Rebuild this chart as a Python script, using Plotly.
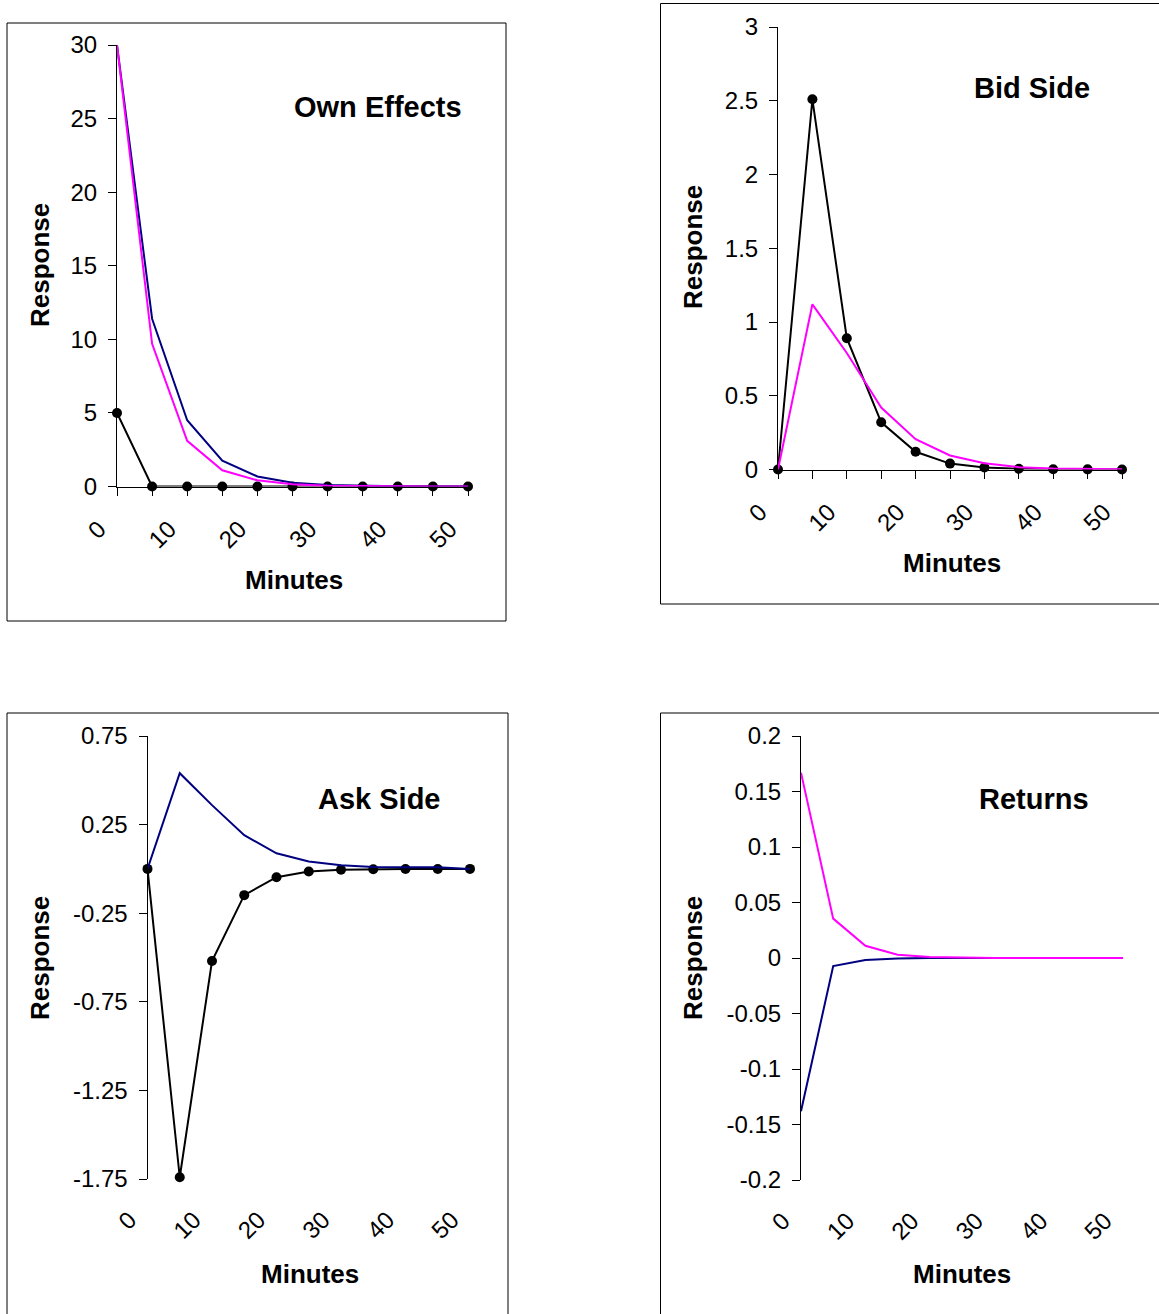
import plotly.graph_objects as go

# ---------------- data ----------------
MINUTES = [0, 5, 10, 15, 20, 25, 30, 35, 40, 45, 50]
X_LABELS = ["0", "10", "20", "30", "40", "50"]

own_black = [5, 0, 0, 0, 0, 0, 0, 0, 0, 0, 0]
own_navy = [30, 11.4, 4.5, 1.75, 0.68, 0.26, 0.10, 0.04, 0.015, 0.006, 0.002]
own_magenta = [30, 9.7, 3.1, 1.1, 0.42, 0.15, 0.05, 0.02, 0.007, 0.003, 0.001]

bid_black = [0, 2.51, 0.89, 0.32, 0.12, 0.04, 0.014, 0.005, 0.002, 0.001, 0]
bid_magenta = [0, 1.12, 0.79, 0.42, 0.205, 0.095, 0.042, 0.016, 0.006, 0.002, 0.001]

ask_black = [0, -1.74, -0.52, -0.148, -0.047, -0.015, -0.005, -0.002, -0.001, -0.001, 0]
ask_navy = [0, 0.54, 0.36, 0.19, 0.088, 0.042, 0.02, 0.011, 0.01, 0.01, 0.0]

ret_magenta = [0.167, 0.0355, 0.011, 0.003, 0.001, 0.0003, 0, 0, 0, 0, 0]
ret_navy = [-0.138, -0.0072, -0.0018, -0.0005, -0.0001, 0, 0, 0, 0, 0, 0]

OWN_YTICKS = [0, 5, 10, 15, 20, 25, 30]
OWN_YTEXT = ["0", "5", "10", "15", "20", "25", "30"]
BID_YTICKS = [0, 0.5, 1, 1.5, 2, 2.5, 3]
BID_YTEXT = ["0", "0.5", "1", "1.5", "2", "2.5", "3"]
ASK_YTICKS = [0.75, 0.25, -0.25, -0.75, -1.25, -1.75]
ASK_YTEXT = ["0.75", "0.25", "-0.25", "-0.75", "-1.25", "-1.75"]
RET_YTICKS = [0.2, 0.15, 0.1, 0.05, 0, -0.05, -0.1, -0.15, -0.2]
RET_YTEXT = ["0.2", "0.15", "0.1", "0.05", "0", "-0.05", "-0.1", "-0.15", "-0.2"]

TITLES = ["Own Effects", "Bid Side", "Ask Side", "Returns"]

# ---------------- style ----------------
W, H = 1159, 1314
FONT = "Arial, Liberation Sans, sans-serif"
BLACK = "#000000"
NAVY = "#000080"
MAGENTA = "#FF00FF"
TICK_FONT = dict(family=FONT, size=24, color=BLACK)


def px_x(x):
    return x / W


def px_y(y):
    return 1 - y / H


# panel geometry (pixels)
panels = {
    "own": dict(x=(117, 468), y=(486.5, 45), rng=(0, 30)),
    "bid": dict(x=(778, 1122), y=(469.5, 27), rng=(0, 3)),
    "ask": dict(x=(147.5, 470), y=(1179, 736), rng=(-1.75, 0.75)),
    "ret": dict(x=(801, 1123), y=(1180, 736), rng=(-0.2, 0.2)),
}

fig = go.Figure()


def line_trace(y, color, xa, ya, markers=False):
    return go.Scatter(
        x=MINUTES, y=y, xaxis=xa, yaxis=ya,
        mode="lines+markers" if markers else "lines",
        line=dict(color=color, width=2),
        marker=dict(color=BLACK, size=10) if markers else None,
        cliponaxis=False, showlegend=False, hoverinfo="skip",
    )


fig.add_trace(line_trace(own_black, BLACK, "x", "y", True))
fig.add_trace(line_trace(own_navy, NAVY, "x", "y"))
fig.add_trace(line_trace(own_magenta, MAGENTA, "x", "y"))

fig.add_trace(line_trace(bid_black, BLACK, "x2", "y2", True))
fig.add_trace(line_trace(bid_magenta, MAGENTA, "x2", "y2"))

fig.add_trace(line_trace(ask_black, BLACK, "x3", "y3", True))
fig.add_trace(line_trace(ask_navy, NAVY, "x3", "y3"))

fig.add_trace(line_trace(ret_navy, NAVY, "x4", "y4"))
fig.add_trace(line_trace(ret_magenta, MAGENTA, "x4", "y4"))

XR = [MINUTES[0], MINUTES[-1]]
x_ticktext = [str(m) if str(m) in X_LABELS else "" for m in MINUTES]

layout = dict(
    template="none",
    width=W, height=H, margin=dict(l=0, r=0, t=0, b=0, autoexpand=False),
    paper_bgcolor="white", plot_bgcolor="white",
    font=dict(family=FONT, color=BLACK),
    showlegend=False,
)


def xaxis_labels(dom, anchor, with_line, standoff):
    d = dict(
        domain=dom, anchor=anchor, range=XR, showgrid=False, zeroline=False,
        automargin=False,
        tickmode="array", tickvals=MINUTES, ticktext=x_ticktext,
        tickangle=-45, tickfont=TICK_FONT,
        ticklabelshift=-18, ticklabelstandoff=standoff,
        fixedrange=True,
    )
    if with_line:
        d.update(showline=True, linecolor=BLACK, linewidth=1,
                 ticks="outside", ticklen=8, tickcolor=BLACK, tickwidth=1)
    else:
        d.update(showline=False, ticks="")
    return d


def yaxis(dom, anchor, rng, tv, tt):
    return dict(
        domain=dom, anchor=anchor, range=list(rng), showgrid=False,
        zeroline=False, showline=True, linecolor=BLACK, linewidth=1,
        automargin=False,
        ticks="outside", ticklen=8, tickcolor=BLACK, tickwidth=1,
        tickmode="array", tickvals=tv, ticktext=tt, tickfont=TICK_FONT,
        ticklabelstandoff=6,
        fixedrange=True,
    )


def dom_x(p):
    return [px_x(p["x"][0]), px_x(p["x"][1])]


def dom_y(p):
    return [px_y(p["y"][0]), px_y(p["y"][1])]


P = panels
layout["xaxis"] = xaxis_labels(dom_x(P["own"]), "y", True, 10)
layout["yaxis"] = yaxis(dom_y(P["own"]), "x", P["own"]["rng"], OWN_YTICKS, OWN_YTEXT)
layout["xaxis2"] = xaxis_labels(dom_x(P["bid"]), "y2", True, 10)
layout["yaxis2"] = yaxis(dom_y(P["bid"]), "x2", P["bid"]["rng"], BID_YTICKS, BID_YTEXT)
layout["xaxis3"] = xaxis_labels(dom_x(P["ask"]), "y3", False, 21)
layout["yaxis3"] = yaxis(dom_y(P["ask"]), "x3", P["ask"]["rng"], ASK_YTICKS, ASK_YTEXT)
layout["xaxis4"] = xaxis_labels(dom_x(P["ret"]), "y4", False, 21)
layout["yaxis4"] = yaxis(dom_y(P["ret"]), "x4", P["ret"]["rng"], RET_YTICKS, RET_YTEXT)


def zero_axis(over, p):
    d0, d1 = dom_y(p)
    lo, hi = p["rng"]
    pos = d0 + (0 - lo) / (hi - lo) * (d1 - d0)
    return dict(
        overlaying=over, anchor="free", position=pos, side="bottom",
        range=XR, showgrid=False, zeroline=False, automargin=False,
        showline=True, linecolor=BLACK, linewidth=1,
        ticks="outside", ticklen=8, tickcolor=BLACK, tickwidth=1,
        tickmode="array", tickvals=MINUTES, showticklabels=False,
        fixedrange=True,
    )


layout["xaxis5"] = zero_axis("x3", P["ask"])
layout["xaxis6"] = zero_axis("x4", P["ret"])

# frames around each chart
frames = [(7, 23, 506, 621), (660.5, 3.5, 1162, 604), (7, 713, 508, 1320), (660.5, 713, 1162, 1320)]
shapes = []
for (x0, y0, x1, y1) in frames:
    shapes.append(dict(type="rect", xref="paper", yref="paper",
                       x0=px_x(x0), x1=px_x(x1), y0=px_y(y1), y1=px_y(y0),
                       line=dict(color=BLACK, width=1), fillcolor="rgba(0,0,0,0)",
                       layer="below"))
layout["shapes"] = shapes

ann = []
title_pos = [(378, 107), (1032, 88), (380, 799), (1034, 799)]
for t, (x, y) in zip(TITLES, title_pos):
    ann.append(dict(text="<b>%s</b>" % t, x=px_x(x), y=px_y(y), xref="paper", yref="paper",
                    showarrow=False, xanchor="center", yanchor="middle",
                    font=dict(family=FONT, size=29, color=BLACK)))
resp_pos = [(40, 265), (693, 247), (40, 958), (693, 958)]
for (x, y) in resp_pos:
    ann.append(dict(text="<b>Response</b>", x=px_x(x), y=px_y(y), xref="paper", yref="paper",
                    showarrow=False, xanchor="center", yanchor="middle", textangle=-90,
                    font=dict(family=FONT, size=26, color=BLACK)))
min_pos = [(294, 580), (952, 563), (310, 1274), (962, 1274)]
for (x, y) in min_pos:
    ann.append(dict(text="<b>Minutes</b>", x=px_x(x), y=px_y(y), xref="paper", yref="paper",
                    showarrow=False, xanchor="center", yanchor="middle",
                    font=dict(family=FONT, size=26, color=BLACK)))
layout["annotations"] = ann

fig.update_layout(**layout)
fig.write_html("out.html")
